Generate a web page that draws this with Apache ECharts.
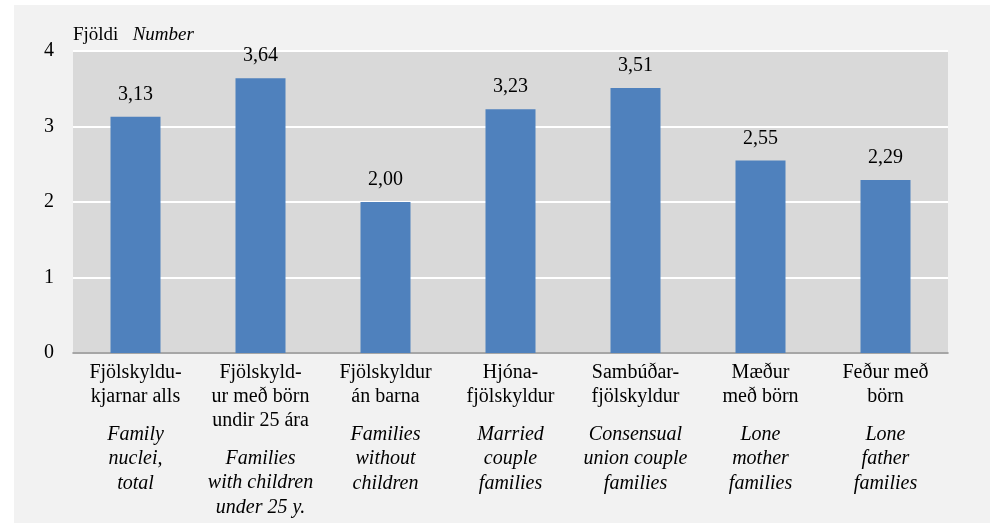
<!DOCTYPE html>
<html>
<head>
<meta charset="utf-8">
<script src="https://cdn.jsdelivr.net/npm/echarts@6/dist/echarts.min.js"></script>
<style>
  html, body { margin: 0; padding: 0; background: #fff; }
  #chart { width: 991px; height: 524px; }
</style>
</head>
<body>
<div id="chart"></div>
<script>
// categories: Icelandic (regular) and English (italic) parts of each label
const catIs = [
  'Fjölskyldu-\nkjarnar alls',
  'Fjölskyld-\nur með börn\nundir 25 ára',
  'Fjölskyldur\nán barna',
  'Hjóna-\nfjölskyldur',
  'Sambúðar-\nfjölskyldur',
  'Mæður\nmeð börn',
  'Feður með\nbörn'
]
const catEn = [
  'Family\nnuclei,\ntotal',
  'Families\nwith children\nunder 25 y.',
  'Families\nwithout\nchildren',
  'Married\ncouple\nfamilies',
  'Consensual\nunion couple\nfamilies',
  'Lone\nmother\nfamilies',
  'Lone\nfather\nfamilies'
]
const values = [3.13, 3.64, 2.00, 3.23, 3.51, 2.55, 2.29]
const yTicks = [0, 1, 2, 3, 4]

const serif = "'Liberation Serif', 'Times New Roman', serif"
const chart = echarts.init(document.getElementById('chart'))

// plot box
const gl = 73, gt = 51, gw = 875, gh = 302

const option = {
  backgroundColor: '#ffffff',
  textStyle: { fontFamily: serif },
  graphic: [
    {
      type: 'rect',
      z: -10,
      shape: { x: 14, y: 5, width: 976, height: 518 },
      style: { fill: '#f2f2f2' },
      silent: true
    },
    {
      type: 'rect',
      z: -9,
      shape: { x: gl, y: gt, width: gw, height: gh },
      style: { fill: '#d9d9d9' },
      silent: true
    }
  ],
  title: {
    left: 68,
    top: 18,
    text: '{r|Fjöldi}   {i|Number}',
    textStyle: {
      fontWeight: 'normal',
      fontSize: 19,
      rich: {
        r: { fontFamily: serif, fontSize: 19, fontWeight: 'normal', color: '#000', lineHeight: 24 },
        i: { fontFamily: serif, fontSize: 19, fontWeight: 'normal', fontStyle: 'italic', color: '#000', lineHeight: 24 }
      }
    }
  },
  grid: {
    left: gl,
    top: gt,
    width: gw,
    height: gh,
    show: false
  },
  xAxis: {
    type: 'category',
    data: catIs,
    axisTick: { show: false },
    splitLine: { show: false },
    axisLine: { lineStyle: { color: '#898989', width: 1.5 } },
    axisLabel: {
      interval: 0,
      margin: 8,
      color: '#000',
      formatter: function (v, i) {
        const a = catIs[i].split('\n').map(l => '{a|' + l + '}').join('\n')
        const b = catEn[i].split('\n').map(l => '{b|' + l + '}').join('\n')
        return a + '\n{s| }\n' + b
      },
      rich: {
        a: { fontFamily: serif, fontSize: 20, lineHeight: 24, color: '#000' },
        s: { fontSize: 1, lineHeight: 13 },
        b: { fontFamily: serif, fontSize: 20, fontStyle: 'italic', lineHeight: 24.5, color: '#000' }
      }
    }
  },
  yAxis: {
    type: 'value',
    min: yTicks[0],
    max: yTicks[yTicks.length - 1],
    interval: 1,
    axisLine: { show: false },
    axisTick: { show: false },
    axisLabel: {
      margin: 19,
      fontFamily: serif,
      fontSize: 20,
      color: '#000'
    },
    splitLine: { lineStyle: { color: '#ffffff', width: 2 } }
  },
  series: [
    {
      type: 'bar',
      data: values,
      barWidth: 50,
      itemStyle: { color: '#4f81bd' },
      label: {
        show: true,
        position: 'top',
        distance: 12,
        fontFamily: serif,
        fontSize: 20,
        color: '#000',
        formatter: p => p.value.toFixed(2).replace('.', ',')
      }
    }
  ]
}

chart.setOption(option)
</script>
</body>
</html>
